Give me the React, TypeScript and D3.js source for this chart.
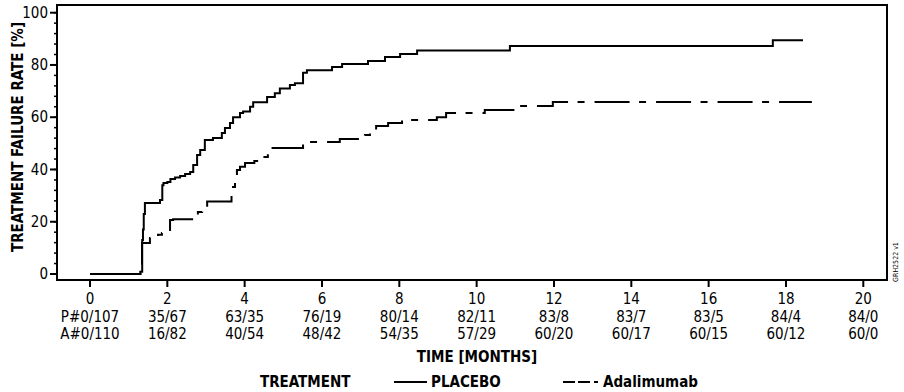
import React from "react";
import * as d3 from "d3";

const placeboTimes = [0, 1.3, 1.35, 1.37, 1.39, 1.42, 1.81, 1.87, 1.9, 2.0, 2.08, 2.2, 2.33, 2.46, 2.59, 2.67, 2.77, 2.85, 2.97, 3.18, 3.41, 3.49, 3.62, 3.7, 3.88, 3.96, 4.14, 4.22, 4.58, 4.78, 4.91, 5.17, 5.3, 5.51, 5.61, 6.26, 6.52, 7.19, 7.63, 8.02, 8.46, 10.86, 17.66, 18.44];
const placeboRates = [0, 0.9, 13, 17, 23, 27.2, 28.3, 34, 34.8, 35.2, 36.4, 36.9, 37.5, 38.3, 39, 41.7, 45.5, 47.5, 51.3, 52, 54, 55.9, 57.8, 60, 61.6, 62.2, 64, 65.7, 67.7, 69.2, 71, 72.3, 73, 77, 78, 79.2, 80.4, 81.5, 83, 84.2, 85.5, 87.3, 89.5, 89.5];

const adaTimes = [0, 1.345, 1.55, 1.76, 1.86, 1.99, 2.07, 2.15, 2.72, 2.79, 2.9, 3.03, 3.66, 3.75, 3.8, 3.88, 4.01, 4.25, 4.47, 4.6, 5.51, 6.46, 7.11, 7.24, 7.4, 7.71, 8.07, 8.97, 9.21, 10.21, 11.15, 11.97, 18.67];
const adaRates = [0, 11.9, 13.8, 15, 15.7, 16.8, 20.7, 21, 22.6, 23.7, 25.2, 27.7, 33.3, 36, 39.8, 41, 42.5, 43.2, 44.8, 48.2, 50.5, 51.7, 53.2, 55.1, 56.6, 57.8, 58.9, 60, 61.6, 62.8, 64.3, 65.8, 65.8];

const xTicks = [0, 2, 4, 6, 8, 10, 12, 14, 16, 18, 20];
const yTicks = [0, 20, 40, 60, 80, 100];
const yMinorTicks = d3.range(0, 101, 4);
const riskPlacebo = ["P#0/107", "35/67", "63/35", "76/19", "80/14", "82/11", "83/8", "83/7", "83/5", "84/4", "84/0"];
const riskAda = ["A#0/110", "16/82", "40/54", "48/42", "54/35", "57/29", "60/20", "60/17", "60/15", "60/12", "60/0"];

const FONT = "'Liberation Sans Narrow', 'DejaVu Sans Condensed', 'Roboto Condensed', sans-serif";

export default function App() {
  const W = 904, H = 392;
  const frame = { left: 57, right: 887, top: 5, bottom: 280 };
  const x = d3.scaleLinear().domain([0, 20]).range([90, 863.3]);
  const y = d3.scaleLinear().domain([0, 100]).range([274, 12.7]);
  const line = d3.line<[number, number]>().x(d => x(d[0])).y(d => y(d[1])).curve(d3.curveStepAfter);
  const pPts: [number, number][] = placeboTimes.map((t, i) => [t, placeboRates[i]]);
  const aPts: [number, number][] = adaTimes.map((t, i) => [t, adaRates[i]]);
  const dash = "35,9.5,7,10";

  return (
    <svg width={W} height={H} style={{ position: "absolute", left: 0, top: 0, background: "#fff" }} fontFamily={FONT}>
      <rect x={0} y={0} width={W} height={H} fill="#fff" />
      {/* curves */}
      <path d={line(aPts) || ""} fill="none" stroke="#000" strokeWidth={2} strokeDasharray={dash} />
      <path d={line(pPts) || ""} fill="none" stroke="#000" strokeWidth={2} />
      {/* frame */}
      <rect x={frame.left} y={frame.top} width={frame.right - frame.left} height={frame.bottom - frame.top} fill="none" stroke="#000" strokeWidth={2} />
      {/* y minor ticks */}
      {yMinorTicks.map(v => (
        <line key={"ym" + v} x1={frame.left - 3} x2={frame.left} y1={y(v)} y2={y(v)} stroke="#000" strokeWidth={1.5} />
      ))}
      {yTicks.map(v => (
        <g key={"y" + v}>
          <line x1={frame.left - 7} x2={frame.left} y1={y(v)} y2={y(v)} stroke="#000" strokeWidth={2} />
          <text x={frame.left - 9} y={y(v)} dy="0.35em" textAnchor="end" fontSize={15}>{v}</text>
        </g>
      ))}
      <text transform={`translate(23,137) rotate(-90)`} textAnchor="middle" fontSize={15} fontWeight="bold">TREATMENT FAILURE RATE [%]</text>
      {/* x ticks */}
      {xTicks.map((v, i) => (
        <g key={"x" + v}>
          <line x1={x(v)} x2={x(v)} y1={frame.bottom} y2={frame.bottom + 7} stroke="#000" strokeWidth={2} />
          <text x={x(v)} y={304} textAnchor="middle" fontSize={15}>{v}</text>
          <text x={x(v)} y={322} textAnchor="middle" fontSize={15}>{riskPlacebo[i]}</text>
          <text x={x(v)} y={339} textAnchor="middle" fontSize={15}>{riskAda[i]}</text>
        </g>
      ))}
      <text x={477} y={362} textAnchor="middle" fontSize={15} fontWeight="bold">TIME [MONTHS]</text>
      {/* legend */}
      <text x={260} y={387} fontSize={15} fontWeight="bold">TREATMENT</text>
      <line x1={394} x2={427} y1={382} y2={382} stroke="#000" strokeWidth={2} />
      <text x={431} y={387} fontSize={15} fontWeight="bold">PLACEBO</text>
      <line x1={563} x2={600} y1={382} y2={382} stroke="#000" strokeWidth={2} strokeDasharray="12,3,12,4,4" />
      <text x={603} y={387} fontSize={15} fontWeight="bold">Adalimumab</text>
      <text transform={`translate(898,262) rotate(-90)`} textAnchor="middle" fontSize={7}>GRH2522 v1</text>
    </svg>
  );
}
